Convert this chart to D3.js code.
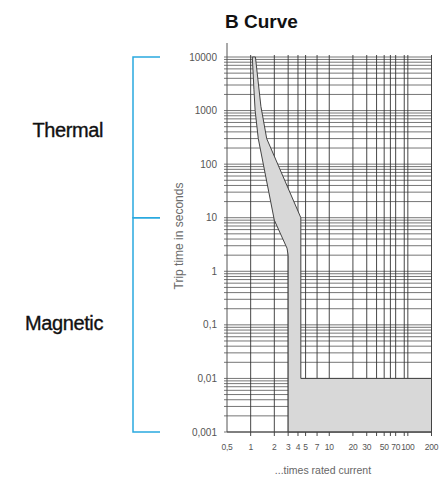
<!DOCTYPE html>
<html>
<head>
<meta charset="utf-8">
<script src="https://cdn.jsdelivr.net/npm/d3@7"></script>
<style>
  body { margin: 0; background: #fff; }
  text { font-family: "Liberation Sans", Arial, sans-serif; }
</style>
</head>
<body>
<div id="chart"></div>
<script>
// B curve trip characteristic

const xTicks = [0.5, 1, 2, 3, 4, 5, 7, 10, 20, 30, 50, 70, 100, 200];
const xTickLabels = ["0,5", "1", "2", "3", "4", "5", "7", "10", "20", "30", "50", "70", "100", "200"];
const xGrid = [1, 2, 3, 4, 5, 7, 10, 20, 30, 40, 50, 60, 70, 90, 100, 200];
const yTicks = [10000, 1000, 100, 10, 1, 0.1, 0.01, 0.001];
const yTickLabels = ["10000", "1000", "100", "10", "1", "0,1", "0,01", "0,001"];

// lower (min) and upper (max) limits of the tripping band, [times In, seconds]
const lowerCurve = [[1.05, 10000], [1.1, 2500], [1.14, 1000], [1.25, 300], [2.0, 9], [2.9, 2.7], [3, 2], [3, 0.001]];
const upperCurve = [[1.15, 10000], [1.35, 1200], [1.6, 300], [4.35, 10], [4.35, 0.01], [200, 0.01], [200, 0.001]];

// region brackets on the left, in seconds
const regions = [
  { name: "Thermal", from: 10000, to: 10 },
  { name: "Magnetic", from: 10, to: 0.001 }
];

const width = 447;
const height = 478;

const x = d3.scaleLog().domain([0.5, 200]).range([227, 431.5]);
const y = d3.scaleLog().domain([0.001, 10000]).range([432, 57]);

// minor grid values 1..9 per decade
let yGrid = [];
for (let e = -3; e < 4; e++) {
  for (let k = 1; k < 10; k++) yGrid.push(k * Math.pow(10, e));
}
yGrid.push(10000);

const svg = d3.select("#chart").append("svg")
    .attr("width", width)
    .attr("height", height);

svg.append("rect").attr("width", width).attr("height", height).attr("fill", "#fff");

// grid
svg.append("g")
  .selectAll("line")
  .data(yGrid)
  .join("line")
    .attr("x1", x(0.5) - 3)
    .attr("x2", x(200))
    .attr("y1", d => y(d))
    .attr("y2", d => y(d))
    .attr("stroke", "#666")
    .attr("stroke-width", 0.9);

svg.append("g")
  .selectAll("line")
  .data(xGrid)
  .join("line")
    .attr("x1", d => x(d))
    .attr("x2", d => x(d))
    .attr("y1", y(10000) - 2)
    .attr("y2", y(0.001) + 4)
    .attr("stroke", "#333")
    .attr("stroke-width", 0.9);

// tripping band
const band = lowerCurve.concat(upperCurve.slice().reverse());
svg.append("path")
    .attr("d", d3.line().x(d => x(d[0])).y(d => y(d[1]))(band) + "Z")
    .attr("fill", "#d8d8d8")
    .attr("stroke", "#444")
    .attr("stroke-width", 1);

// axis lines
svg.append("line")
    .attr("x1", x(0.5)).attr("x2", x(0.5))
    .attr("y1", 43).attr("y2", y(0.001))
    .attr("stroke", "#555").attr("stroke-width", 1);
svg.append("line")
    .attr("x1", x(0.5)).attr("x2", x(200))
    .attr("y1", y(0.001)).attr("y2", y(0.001))
    .attr("stroke", "#444").attr("stroke-width", 1);

// tick labels
svg.append("g")
  .selectAll("text")
  .data(yTicks)
  .join("text")
    .attr("x", 217)
    .attr("y", d => y(d))
    .attr("dy", "0.35em")
    .attr("text-anchor", "end")
    .attr("font-size", 10)
    .attr("fill", "#555")
    .text((d, i) => yTickLabels[i]);

svg.append("g")
  .selectAll("text")
  .data(xTicks)
  .join("text")
    .attr("x", d => x(d))
    .attr("y", 450)
    .attr("text-anchor", "middle")
    .attr("font-size", 8.5)
    .attr("letter-spacing", -0.3)
    .attr("fill", "#555")
    .text((d, i) => xTickLabels[i]);

// axis titles
svg.append("text")
    .attr("transform", `translate(183,236) rotate(-90)`)
    .attr("text-anchor", "middle")
    .attr("font-size", 12)
    .attr("fill", "#6a6a6a")
    .text("Trip time in seconds");

svg.append("text")
    .attr("x", 323)
    .attr("y", 474)
    .attr("text-anchor", "middle")
    .attr("font-size", 10.5)
    .attr("fill", "#666")
    .text("...times rated current");

svg.append("text")
    .attr("x", 225)
    .attr("y", 28)
    .attr("font-size", 19)
    .attr("font-weight", "bold")
    .attr("fill", "#111")
    .text("B Curve");

// region brackets
const bx = 133, bTick = 160;
regions.forEach(r => {
  svg.append("path")
      .attr("d", `M${bTick},${y(r.from)}H${bx}V${y(r.to)}H${bTick}`)
      .attr("fill", "none")
      .attr("stroke", "#2aa9e0")
      .attr("stroke-width", 1.5);
});

svg.append("g")
  .selectAll("text")
  .data(regions)
  .join("text")
    .attr("x", 103)
    .attr("y", (d, i) => i === 0 ? 137 : 330)
    .attr("text-anchor", "end")
    .attr("font-size", 20)
    .attr("letter-spacing", -0.4)
    .attr("fill", "#111")
    .attr("stroke", "#111")
    .attr("stroke-width", 0.35)
    .text(d => d.name);
</script>
</body>
</html>
